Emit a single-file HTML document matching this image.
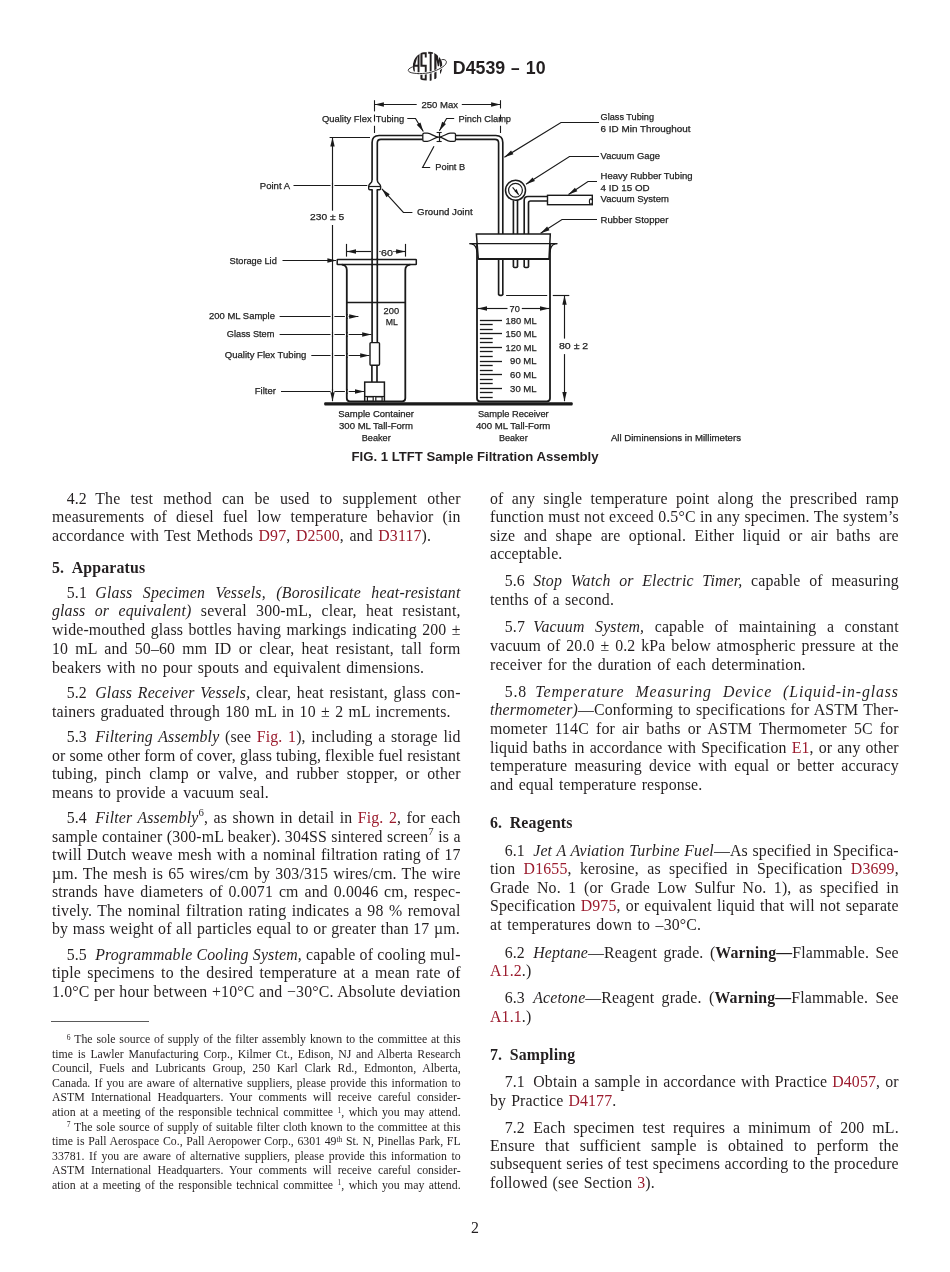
<!DOCTYPE html>
<html><head><meta charset="utf-8"><title>D4539 - 10</title>
<style>
html,body{margin:0;padding:0;background:#fff;}
body{width:950px;height:1272px;position:relative;overflow:hidden;}
#page{position:absolute;left:0;top:0;width:950px;height:1272px;background:#fff;will-change:transform;}
.t,.f{position:absolute;white-space:nowrap;font-family:"Liberation Serif",serif;color:#231f20;}
.t{font-size:15.85px;line-height:19px;word-spacing:2px;letter-spacing:0.15px;}
.f{font-size:11.8px;line-height:14px;}
.j{text-align:justify;text-align-last:justify;word-spacing:0;}
.r{color:#9b1b2d;}
.pn{padding-right:8.3px;}
sup{font-size:68%;line-height:0;vertical-align:0;position:relative;top:-0.62em;}
.f sup{font-size:64%;top:-0.45em;}
b{font-weight:bold;}
.hdr{position:absolute;font-family:"Liberation Sans",sans-serif;font-weight:bold;color:#231f20;white-space:nowrap;}
</style></head>
<body>
<div id="page">
<svg style="position:absolute;left:400px;top:45px" width="52" height="42" viewBox="400 45 52 42">
<defs><clipPath id="lc"><circle cx="427.6" cy="66.3" r="14.8"></circle></clipPath></defs>
<path d="M413.9,66.3 C411.2,67.4 408.3,68.6 408.2,70.3 M446.0,60.8 C445.1,59.5 443.4,59.3 441.5,59.7" fill="none" stroke="#231f20" stroke-width="0.9"></path>
<circle cx="427.6" cy="66.3" r="14.8" fill="#fff"></circle>
<g clip-path="url(#lc)" fill="#231f20">
<path fill-rule="evenodd" d="M413.0,71.5 L412.6,66 L413.8,59.5 L416.2,54 L418.4,52.2 L419.5,52.2 L419.5,74.6 L417.6,74.6 L417.6,66.8 L414.6,66.8 L414.9,71.5 Z M415.2,64.8 L417.6,64.8 L417.6,56.0 Z"></path>
<path d="M420.4,52.2 L426.7,52.2 L426.7,57.6 L424.8,57.6 L424.8,54.2 L422.5,54.2 L422.5,64.7 L426.7,64.7 L426.7,80.6 L420.4,80.6 L420.4,73.2 L422.5,73.2 L422.5,78.6 L424.8,78.6 L424.8,66.7 L420.4,66.7 Z"></path>
<path d="M428.2,51.4 L433.1,51.4 L433.1,53.8 L431.6,53.8 L431.6,81.2 L429.7,81.2 L429.7,53.8 L428.2,53.8 Z"></path>
<path d="M434.3,52 L437.2,52 L438.7,60.5 L439.9,52 L442.6,52 L442.6,76 L440.0,76 L440.0,61 L439.1,66.2 L437.8,66.2 L436.5,59.5 L436.5,79.2 L434.3,79.2 Z"></path>
</g>
<path d="M408.2,70.3 C408.5,73.6 418,73.9 425.3,73.3 C433,72.6 440.8,68.6 444.4,65.6 C446.5,63.7 446.8,61.7 446.0,60.8" fill="none" stroke="#fff" stroke-width="2.4"></path>
<path d="M408.2,70.3 C408.5,73.6 418,73.9 425.3,73.3 C433,72.6 440.8,68.6 444.4,65.6 C446.5,63.7 446.8,61.7 446.0,60.8" fill="none" stroke="#231f20" stroke-width="0.9"></path>
</svg>
<div class="hdr" style="left:452.8px;top:57.73px;font-size:17.8px;line-height:20px;">D4539</div>
<div class="hdr" style="left:510.9px;top:57.84px;font-size:17.5px;line-height:20px;transform:scaleX(0.88);transform-origin:0 0;">–</div>
<div class="hdr" style="left:525.8px;top:57.73px;font-size:17.8px;line-height:20px;">10</div>
<svg style="position:absolute;left:0;top:0" width="950" height="470" viewBox="0 0 950 470"><g stroke="#1a1a1a" fill="none" stroke-linecap="butt"><path d="M372.1,342.6 L372.1,142.5 Q372.1,135.5 379.1,135.5 L422.8,135.5" stroke-width="1.65" fill="none"></path>
<path d="M377.3,342.6 L377.3,143 Q377.3,139.4 380.90000000000003,139.4 L422.8,139.4" stroke-width="1.65" fill="none"></path>
<path d="M455.5,135.5 L495.8,135.5 Q502.8,135.5 502.8,142.5 L502.8,234" stroke-width="1.65" fill="none"></path>
<path d="M455.5,139.4 L495.0,139.4 Q498.6,139.4 498.6,143.0 L498.6,234" stroke-width="1.65" fill="none"></path>
<path d="M372.1,180.4 C372.1,183.5 368.7,183.3 368.7,186.3 L368.7,188.6 Q368.7,189.8 369.9,189.8 L372.1,189.8 L377.3,189.8 L379.4,189.8 Q380.6,189.8 380.6,188.6 L380.6,186.3 C380.6,183.3 377.3,183.5 377.3,180.4 Z" fill="#fff" stroke="none"></path>
<path d="M372.1,180.4 C372.1,183.5 368.7,183.3 368.7,186.3 L368.7,188.6 Q368.7,189.8 369.9,189.8 L372.70000000000005,189.8" stroke-width="1.4" fill="none"></path>
<path d="M377.3,180.4 C377.3,183.5 380.6,183.3 380.6,186.3 L380.6,188.6 Q380.6,189.8 379.4,189.8 L376.7,189.8" stroke-width="1.4" fill="none"></path>
<line x1="368.7" y1="186.5" x2="380.6" y2="186.5" stroke-width="1.2"></line>
<path d="M422.8,134.6 Q422.8,133.2 424.2,133.2 L427.4,133.2 C431.2,133.2 434.6,137.1 438.9,137.1 C443.2,137.1 446.6,133.2 450.2,133.2 L454.1,133.2 Q455.5,133.2 455.5,134.6 L455.5,139.9 Q455.5,141.3 454.1,141.3 L450.2,141.3 C446.6,141.3 443.2,137.1 438.9,137.1 C434.6,137.1 431.2,141.3 427.4,141.3 L424.2,141.3 Q422.8,141.3 422.8,139.9 Z" stroke-width="1.3" fill="#fff"></path>
<line x1="439.5" y1="132.1" x2="439.5" y2="141.4" stroke-width="1.2"></line>
<line x1="436.6" y1="132.5" x2="441.7" y2="132.5" stroke-width="1.1"></line>
<line x1="436.6" y1="141.5" x2="441.7" y2="141.5" stroke-width="1.1"></line>
<line x1="374.5" y1="100.2" x2="374.5" y2="111.4" stroke-width="1.1"></line>
<line x1="500.5" y1="100.2" x2="500.5" y2="108.5" stroke-width="1.1"></line>
<line x1="374.5" y1="114.6" x2="374.5" y2="121.6" stroke-width="1.1"></line>
<line x1="374.5" y1="125.8" x2="374.5" y2="133.0" stroke-width="1.1"></line>
<line x1="500.5" y1="114.6" x2="500.5" y2="121.6" stroke-width="1.1"></line>
<line x1="500.5" y1="125.8" x2="500.5" y2="133.0" stroke-width="1.1"></line>
<line x1="374.7" y1="104.5" x2="416.7" y2="104.5" stroke-width="1.15"></line>
<path d="M374.70,104.50 L383.90,102.30 L383.90,106.70 Z" fill="#1a1a1a" stroke="none"></path>
<line x1="461.8" y1="104.5" x2="500.3" y2="104.5" stroke-width="1.15"></line>
<path d="M500.30,104.50 L491.10,106.70 L491.10,102.30 Z" fill="#1a1a1a" stroke="none"></path>
<path d="M407.3,118.5 L415.5,118.5 L423.3,131.5" stroke-width="1.15" fill="none"></path>
<path d="M423.30,131.50 L416.68,124.74 L420.45,122.48 Z" fill="#1a1a1a" stroke="none"></path>
<path d="M454.2,118.5 L446.6,118.5 L439.4,130.8" stroke-width="1.15" fill="none"></path>
<path d="M439.40,130.80 L442.15,121.75 L445.95,123.97 Z" fill="#1a1a1a" stroke="none"></path>
<path d="M430.2,167.5 L422.6,167.5 L434.0,146.2" stroke-width="1.15" fill="none"></path>
<path d="M599.0,122.5 L561.0,122.5 L504.4,157.2" stroke-width="1.15" fill="none"></path>
<path d="M504.40,157.20 L511.09,150.52 L513.39,154.27 Z" fill="#1a1a1a" stroke="none"></path>
<path d="M599.0,156.5 L569.5,156.5 L526.0,184.2" stroke-width="1.15" fill="none"></path>
<path d="M526.00,184.20 L532.58,177.40 L534.94,181.11 Z" fill="#1a1a1a" stroke="none"></path>
<path d="M597.0,181.5 L588.0,181.5 L568.5,194.6" stroke-width="1.15" fill="none"></path>
<path d="M568.50,194.60 L574.91,187.64 L577.36,191.30 Z" fill="#1a1a1a" stroke="none"></path>
<path d="M597.0,219.5 L562.0,219.5 L540.6,233.3" stroke-width="1.15" fill="none"></path>
<path d="M540.60,233.30 L547.14,226.47 L549.52,230.16 Z" fill="#1a1a1a" stroke="none"></path>
<line x1="293.5" y1="185.5" x2="367.3" y2="185.5" stroke-width="1.15"></line>
<path d="M412.4,212.5 L403.4,212.5 L381.9,188.9" stroke-width="1.15" fill="none"></path>
<path d="M381.90,188.90 L389.72,194.22 L386.47,197.18 Z" fill="#1a1a1a" stroke="none"></path>
<line x1="329.6" y1="137.5" x2="370.0" y2="137.5" stroke-width="1.15"></line>
<line x1="332.5" y1="137.3" x2="332.5" y2="210.7" stroke-width="1.15"></line>
<line x1="332.5" y1="225.0" x2="332.5" y2="401.2" stroke-width="1.15"></line>
<path d="M332.50,137.30 L334.70,146.50 L330.30,146.50 Z" fill="#1a1a1a" stroke="none"></path>
<path d="M332.50,401.20 L330.30,392.00 L334.70,392.00 Z" fill="#1a1a1a" stroke="none"></path>
<line x1="282.5" y1="260.5" x2="336.0" y2="260.5" stroke-width="1.15"></line>
<path d="M336.60,260.50 L327.40,262.70 L327.40,258.30 Z" fill="#1a1a1a" stroke="none"></path>
<line x1="346.5" y1="243.9" x2="346.5" y2="256.6" stroke-width="1.15"></line>
<line x1="405.5" y1="243.9" x2="405.5" y2="256.6" stroke-width="1.15"></line>
<line x1="346.8" y1="251.5" x2="371.0" y2="251.5" stroke-width="1.15"></line>
<path d="M346.80,251.50 L356.00,249.30 L356.00,253.70 Z" fill="#1a1a1a" stroke="none"></path>
<line x1="395.3" y1="251.5" x2="405.3" y2="251.5" stroke-width="1.15"></line>
<path d="M405.30,251.50 L396.10,253.70 L396.10,249.30 Z" fill="#1a1a1a" stroke="none"></path>
<line x1="379.3" y1="251.5" x2="380.6" y2="251.5" stroke-width="1.15"></line>
<line x1="393.3" y1="251.5" x2="394.6" y2="251.5" stroke-width="1.15"></line>
<rect x="337.2" y="259.4" width="79.1" height="5.1" rx="0.6" fill="#fff" stroke-width="1.5"></rect>
<line x1="372.1" y1="258.6" x2="372.1" y2="265.3" stroke-width="1.65"></line>
<line x1="377.3" y1="258.6" x2="377.3" y2="265.3" stroke-width="1.65"></line>
<path d="M341.8,264.6 C345.6,265.0 346.8,266.6 346.8,270.0 L346.8,398.3 Q346.8,401.3 349.8,401.3 L402.3,401.3 Q405.3,401.3 405.3,398.3 L405.3,270.0 C405.3,266.6 406.5,265.0 410.3,264.6" stroke-width="1.8" fill="none"></path>
<line x1="346.8" y1="302.5" x2="405.3" y2="302.5" stroke-width="1.3"></line>
<rect x="370.0" y="342.6" width="9.5" height="22.7" rx="1.0" fill="#fff" stroke-width="1.4"></rect>
<line x1="371.9" y1="365.3" x2="371.9" y2="382.1" stroke-width="1.65"></line>
<line x1="377.0" y1="365.3" x2="377.0" y2="382.1" stroke-width="1.65"></line>
<rect x="364.7" y="382.1" width="19.7" height="19.2" fill="#fff" stroke-width="1.5"></rect>
<line x1="364.7" y1="396.5" x2="384.4" y2="396.5" stroke-width="1.2"></line>
<rect x="367.4" y="396.8" width="5.8" height="4.5" fill="none" stroke-width="1.2"></rect>
<rect x="375.8" y="396.8" width="6.3" height="4.5" fill="none" stroke-width="1.2"></rect>
<path d="M279.6,316.5 L358.4,316.5" stroke-width="1.15" fill="none"></path>
<path d="M358.40,316.50 L349.20,318.70 L349.20,314.30 Z" fill="#1a1a1a" stroke="none"></path>
<path d="M279.6,334.5 L371.4,334.5" stroke-width="1.15" fill="none"></path>
<path d="M371.40,334.50 L362.20,336.70 L362.20,332.30 Z" fill="#1a1a1a" stroke="none"></path>
<path d="M311.3,355.5 L369.4,355.5" stroke-width="1.15" fill="none"></path>
<path d="M369.40,355.50 L360.20,357.70 L360.20,353.30 Z" fill="#1a1a1a" stroke="none"></path>
<path d="M281.0,391.5 L364.2,391.5" stroke-width="1.15" fill="none"></path>
<path d="M364.20,391.50 L355.00,393.70 L355.00,389.30 Z" fill="#1a1a1a" stroke="none"></path>
<rect x="324.2" y="402.2" width="248.5" height="3.3" rx="1" fill="#1a1a1a" stroke="none"></rect>
<line x1="469.5" y1="243.6" x2="557.3" y2="243.6" stroke-width="1.4"></line>
<path d="M471.5,243.8 Q476.6,244.6 477.0,252.5" stroke-width="1.2" fill="none"></path>
<path d="M555.3,243.8 Q550.4,244.6 550.0,252.5" stroke-width="1.2" fill="none"></path>
<path d="M477.0,244 L477.0,398.3 Q477.0,401.3 480.0,401.3 L547.0,401.3 Q550.0,401.3 550.0,398.3 L550.0,244" stroke-width="1.8" fill="none"></path>
<path d="M476.4,234.0 L550.3,234.0 L549.0,259.0 L478.3,259.0 Z" stroke-width="1.5" fill="#fff"></path>
<line x1="469.5" y1="243.6" x2="557.3" y2="243.6" stroke-width="1.4"></line>
<line x1="478.3" y1="259.0" x2="549.0" y2="259.0" stroke-width="2.0"></line>
<line x1="498.6" y1="259.5" x2="498.6" y2="294.5" stroke-width="1.65"></line>
<line x1="502.8" y1="259.5" x2="502.8" y2="294.5" stroke-width="1.65"></line>
<path d="M498.6,294.0 Q498.6,295.3 499.8,295.3 L501.6,295.3 Q502.8,295.3 502.8,294.0" stroke-width="1.65" fill="none"></path>
<line x1="513.4" y1="259.5" x2="513.4" y2="266.7" stroke-width="1.65"></line>
<line x1="517.5" y1="259.5" x2="517.5" y2="266.7" stroke-width="1.65"></line>
<path d="M513.4,266.2 Q513.4,267.5 514.6,267.5 L516.3,267.5 Q517.5,267.5 517.5,266.2" stroke-width="1.65" fill="none"></path>
<line x1="524.2" y1="259.5" x2="524.2" y2="266.7" stroke-width="1.65"></line>
<line x1="528.5" y1="259.5" x2="528.5" y2="266.7" stroke-width="1.65"></line>
<path d="M524.2,266.2 Q524.2,267.5 525.4000000000001,267.5 L527.3,267.5 Q528.5,267.5 528.5,266.2" stroke-width="1.65" fill="none"></path>
<line x1="513.4" y1="200.3" x2="513.4" y2="234.0" stroke-width="1.65"></line>
<line x1="517.5" y1="200.3" x2="517.5" y2="234.0" stroke-width="1.65"></line>
<path d="M524.2,234 L524.2,200.2 Q524.2,196.5 527.9,196.5 L547.5,196.5" stroke-width="1.65" fill="none"></path>
<path d="M528.5,234 L528.5,203.0 Q528.5,201.0 530.5,201.0 L547.5,201.0" stroke-width="1.65" fill="none"></path>
<rect x="547.5" y="195.3" width="44.8" height="9.4" fill="#fff" stroke-width="1.4"></rect>
<ellipse cx="590.9" cy="201.6" rx="1.5" ry="2.7" fill="#fff" stroke-width="1.1"></ellipse>
<circle cx="515.5" cy="190.3" r="10.0" fill="#fff" stroke-width="1.5"></circle>
<circle cx="515.5" cy="190.3" r="6.9" fill="none" stroke-width="1.2"></circle>
<line x1="512.6" y1="187.4" x2="518.6" y2="194.6" stroke-width="1.15"></line>
<path d="M518.9,195.0 L514.3,190.9 L516.6,189.0 Z" fill="#1a1a1a" stroke="none"></path>
<line x1="506.1" y1="295.5" x2="547.2" y2="295.5" stroke-width="1.15"></line>
<line x1="552.8" y1="295.5" x2="569.3" y2="295.5" stroke-width="1.15"></line>
<line x1="564.5" y1="295.6" x2="564.5" y2="338.6" stroke-width="1.15"></line>
<line x1="564.5" y1="354.1" x2="564.5" y2="401.2" stroke-width="1.15"></line>
<path d="M564.50,295.60 L566.70,304.80 L562.30,304.80 Z" fill="#1a1a1a" stroke="none"></path>
<path d="M564.50,401.20 L562.30,392.00 L566.70,392.00 Z" fill="#1a1a1a" stroke="none"></path>
<line x1="477.0" y1="308.5" x2="507.5" y2="308.5" stroke-width="1.15"></line>
<line x1="521.8" y1="308.5" x2="550.0" y2="308.5" stroke-width="1.15"></line>
<path d="M477.80,308.50 L487.00,306.30 L487.00,310.70 Z" fill="#1a1a1a" stroke="none"></path>
<path d="M549.20,308.50 L540.00,310.70 L540.00,306.30 Z" fill="#1a1a1a" stroke="none"></path>
<line x1="479.9" y1="320.5" x2="502.0" y2="320.5" stroke-width="1.3"></line>
<line x1="479.9" y1="324.5" x2="492.7" y2="324.5" stroke-width="1.3"></line>
<line x1="479.9" y1="329.5" x2="492.7" y2="329.5" stroke-width="1.3"></line>
<line x1="479.9" y1="333.5" x2="502.0" y2="333.5" stroke-width="1.3"></line>
<line x1="479.9" y1="338.5" x2="492.7" y2="338.5" stroke-width="1.3"></line>
<line x1="479.9" y1="342.5" x2="492.7" y2="342.5" stroke-width="1.3"></line>
<line x1="479.9" y1="347.5" x2="502.0" y2="347.5" stroke-width="1.3"></line>
<line x1="479.9" y1="351.5" x2="492.7" y2="351.5" stroke-width="1.3"></line>
<line x1="479.9" y1="356.5" x2="492.7" y2="356.5" stroke-width="1.3"></line>
<line x1="479.9" y1="361.5" x2="502.0" y2="361.5" stroke-width="1.3"></line>
<line x1="479.9" y1="365.5" x2="492.7" y2="365.5" stroke-width="1.3"></line>
<line x1="479.9" y1="370.5" x2="492.7" y2="370.5" stroke-width="1.3"></line>
<line x1="479.9" y1="374.5" x2="502.0" y2="374.5" stroke-width="1.3"></line>
<line x1="479.9" y1="379.5" x2="492.7" y2="379.5" stroke-width="1.3"></line>
<line x1="479.9" y1="383.5" x2="492.7" y2="383.5" stroke-width="1.3"></line>
<line x1="479.9" y1="388.5" x2="502.0" y2="388.5" stroke-width="1.3"></line>
<line x1="479.9" y1="392.5" x2="492.7" y2="392.5" stroke-width="1.3"></line>
<line x1="479.9" y1="397.5" x2="492.7" y2="397.5" stroke-width="1.3"></line>
<rect x="330.60" y="315.60" width="3.8" height="1.8" fill="#fff" stroke="none"></rect>
<line x1="332.5" y1="314.00" x2="332.5" y2="319.00" stroke-width="1.15"></line>
<rect x="344.90" y="315.60" width="3.8" height="1.8" fill="#fff" stroke="none"></rect>
<line x1="346.8" y1="314.00" x2="346.8" y2="319.00" stroke-width="1.6"></line>
<rect x="330.60" y="333.60" width="3.8" height="1.8" fill="#fff" stroke="none"></rect>
<line x1="332.5" y1="332.00" x2="332.5" y2="337.00" stroke-width="1.15"></line>
<rect x="344.90" y="333.60" width="3.8" height="1.8" fill="#fff" stroke="none"></rect>
<line x1="346.8" y1="332.00" x2="346.8" y2="337.00" stroke-width="1.6"></line>
<rect x="330.60" y="354.60" width="3.8" height="1.8" fill="#fff" stroke="none"></rect>
<line x1="332.5" y1="353.00" x2="332.5" y2="358.00" stroke-width="1.15"></line>
<rect x="344.90" y="354.60" width="3.8" height="1.8" fill="#fff" stroke="none"></rect>
<line x1="346.8" y1="353.00" x2="346.8" y2="358.00" stroke-width="1.6"></line>
<rect x="330.60" y="390.60" width="3.8" height="1.8" fill="#fff" stroke="none"></rect>
<line x1="332.5" y1="389.00" x2="332.5" y2="394.00" stroke-width="1.15"></line>
<rect x="344.90" y="390.60" width="3.8" height="1.8" fill="#fff" stroke="none"></rect>
<line x1="346.8" y1="389.00" x2="346.8" y2="394.00" stroke-width="1.6"></line>
<rect x="330.60" y="184.60" width="3.8" height="1.8" fill="#fff" stroke="none"></rect>
<line x1="332.5" y1="183.00" x2="332.5" y2="188.00" stroke-width="1.15"></line></g><g font-family="Liberation Sans" fill="#222222" stroke="#222222" stroke-width="0.25"><text x="421.4" y="107.8" textLength="36.6" lengthAdjust="spacingAndGlyphs" font-size="9.7">250 Max</text>
<text x="322.0" y="121.6" textLength="49.6" lengthAdjust="spacingAndGlyphs" font-size="9.7">Quality Flex</text>
<text x="375.8" y="121.6" textLength="28.3" lengthAdjust="spacingAndGlyphs" font-size="9.7">Tubing</text>
<text x="458.6" y="121.8" textLength="52.4" lengthAdjust="spacingAndGlyphs" font-size="9.7">Pinch Clamp</text>
<text x="435.3" y="169.6" textLength="29.9" lengthAdjust="spacingAndGlyphs" font-size="9.7">Point B</text>
<text x="600.6" y="120.0" textLength="53.4" lengthAdjust="spacingAndGlyphs" font-size="9.7">Glass Tubing</text>
<text x="600.6" y="131.6" textLength="89.9" lengthAdjust="spacingAndGlyphs" font-size="9.7">6 ID Min Throughout</text>
<text x="600.6" y="159.0" textLength="59.5" lengthAdjust="spacingAndGlyphs" font-size="9.7">Vacuum Gage</text>
<text x="600.6" y="179.0" textLength="92.0" lengthAdjust="spacingAndGlyphs" font-size="9.7">Heavy Rubber Tubing</text>
<text x="600.6" y="190.5" textLength="49.0" lengthAdjust="spacingAndGlyphs" font-size="9.7">4 ID 15 OD</text>
<text x="600.6" y="202.0" textLength="68.2" lengthAdjust="spacingAndGlyphs" font-size="9.7">Vacuum System</text>
<text x="600.6" y="222.7" textLength="67.8" lengthAdjust="spacingAndGlyphs" font-size="9.7">Rubber Stopper</text>
<text x="259.8" y="189.0" textLength="30.3" lengthAdjust="spacingAndGlyphs" font-size="9.7">Point A</text>
<text x="417.1" y="215.4" textLength="55.5" lengthAdjust="spacingAndGlyphs" font-size="9.7">Ground Joint</text>
<text x="310.0" y="220.3" textLength="34.1" lengthAdjust="spacingAndGlyphs" font-size="9.7">230 ± 5</text>
<text x="229.5" y="263.9" textLength="47.3" lengthAdjust="spacingAndGlyphs" font-size="9.7">Storage Lid</text>
<text x="381.0" y="256.2" textLength="11.8" lengthAdjust="spacingAndGlyphs" font-size="9.7">60</text>
<text x="383.6" y="313.8" textLength="15.5" lengthAdjust="spacingAndGlyphs" font-size="9.7">200</text>
<text x="385.8" y="325.4" textLength="12.1" lengthAdjust="spacingAndGlyphs" font-size="9.7">ML</text>
<text x="209.1" y="319.0" textLength="65.8" lengthAdjust="spacingAndGlyphs" font-size="9.7">200 ML Sample</text>
<text x="226.8" y="336.6" textLength="47.6" lengthAdjust="spacingAndGlyphs" font-size="9.7">Glass Stem</text>
<text x="224.8" y="358.0" textLength="81.6" lengthAdjust="spacingAndGlyphs" font-size="9.7">Quality Flex Tubing</text>
<text x="254.8" y="394.4" textLength="21.1" lengthAdjust="spacingAndGlyphs" font-size="9.7">Filter</text>
<text x="559.0" y="349.1" textLength="29.2" lengthAdjust="spacingAndGlyphs" font-size="9.7">80 ± 2</text>
<text x="509.6" y="312.2" textLength="10.2" lengthAdjust="spacingAndGlyphs" font-size="9.7">70</text>
<text x="536.6" y="323.6" text-anchor="end" textLength="31.0" lengthAdjust="spacingAndGlyphs" font-size="9.7">180 ML</text>
<text x="536.6" y="337.2" text-anchor="end" textLength="31.0" lengthAdjust="spacingAndGlyphs" font-size="9.7">150 ML</text>
<text x="536.6" y="350.8" text-anchor="end" textLength="31.0" lengthAdjust="spacingAndGlyphs" font-size="9.7">120 ML</text>
<text x="536.6" y="364.4" text-anchor="end" textLength="26.5" lengthAdjust="spacingAndGlyphs" font-size="9.7">90 ML</text>
<text x="536.6" y="378.0" text-anchor="end" textLength="26.5" lengthAdjust="spacingAndGlyphs" font-size="9.7">60 ML</text>
<text x="536.6" y="391.59" text-anchor="end" textLength="26.5" lengthAdjust="spacingAndGlyphs" font-size="9.7">30 ML</text>
<text x="376.1" y="417.3" text-anchor="middle" textLength="75.8" lengthAdjust="spacingAndGlyphs" font-size="9.7">Sample Container</text>
<text x="376.0" y="429.2" text-anchor="middle" textLength="74.0" lengthAdjust="spacingAndGlyphs" font-size="9.7">300 ML Tall-Form</text>
<text x="376.2" y="440.6" text-anchor="middle" textLength="29.0" lengthAdjust="spacingAndGlyphs" font-size="9.7">Beaker</text>
<text x="513.3" y="417.3" text-anchor="middle" textLength="70.8" lengthAdjust="spacingAndGlyphs" font-size="9.7">Sample Receiver</text>
<text x="513.2" y="429.2" text-anchor="middle" textLength="74.4" lengthAdjust="spacingAndGlyphs" font-size="9.7">400 ML Tall-Form</text>
<text x="513.3" y="440.6" text-anchor="middle" textLength="28.8" lengthAdjust="spacingAndGlyphs" font-size="9.7">Beaker</text>
<text x="610.9" y="441.3" textLength="130.1" lengthAdjust="spacingAndGlyphs" font-size="9.7">All Diminensions in Millimeters</text></g></svg>
<div class="hdr" style="left:351.5px;top:448.84px;font-size:13.16px;line-height:16px;">FIG. 1 LTFT Sample Filtration Assembly</div>
<div class="t j" style="left:66.70px;top:488.65px;width:393.90px"><span class="pn">4.2</span>The test method can be used to supplement other</div>
<div class="t j" style="left:52.00px;top:507.40px;width:408.60px">measurements of diesel fuel low temperature behavior (in</div>
<div class="t j" style="left:52.00px;top:526.15px;width:379.10px">accordance with Test Methods <span class="r">D97</span>, <span class="r">D2500</span>, and <span class="r">D3117</span>).</div>
<div class="t" style="left:52.00px;top:557.55px;width:408.60px"><b>5.<span style="display:inline-block;width:7.6px"></span>Apparatus</b></div>
<div class="t j" style="left: 66.7px; top: 582.65px; width: 393.9px; letter-spacing: 0.189px;"><span class="pn">5.1</span><i>Glass Specimen Vessels, (Borosilicate heat-resistant</i></div>
<div class="t j" style="left:52.00px;top:601.40px;width:408.60px"><i>glass or equivalent)</i> several 300-mL, clear, heat resistant,</div>
<div class="t j" style="left:52.00px;top:620.15px;width:408.60px">wide-mouthed glass bottles having markings indicating 200 ±</div>
<div class="t j" style="left:52.00px;top:638.90px;width:408.60px">10 mL and 50–60 mm ID or clear, heat resistant, tall form</div>
<div class="t j" style="left:52.00px;top:657.65px;width:372.10px">beakers with no pour spouts and equivalent dimensions.</div>
<div class="t j" style="left:66.70px;top:683.05px;width:393.90px"><span class="pn">5.2</span><i>Glass Receiver Vessels,</i> clear, heat resistant, glass con-</div>
<div class="t j" style="left:52.00px;top:701.80px;width:398.60px">tainers graduated through 180 mL in 10 ± 2 mL increments.</div>
<div class="t j" style="left:66.70px;top:726.95px;width:393.90px"><span class="pn">5.3</span><i>Filtering Assembly</i> (see <span class="r">Fig. 1</span>), including a storage lid</div>
<div class="t j" style="left: 52px; top: 745.7px; width: 408.6px; letter-spacing: 0.073px;">or some other form of cover, glass tubing, flexible fuel resistant</div>
<div class="t j" style="left:52.00px;top:764.45px;width:408.60px">tubing, pinch clamp or valve, and rubber stopper, or other</div>
<div class="t j" style="left:52.00px;top:783.20px;width:216.90px">means to provide a vacuum seal.</div>
<div class="t j" style="left:66.70px;top:807.95px;width:393.90px"><span class="pn">5.4</span><i>Filter Assembly</i><sup>6</sup>, as shown in detail in <span class="r">Fig. 2</span>, for each</div>
<div class="t j" style="left:52.00px;top:826.52px;width:408.60px">sample container (300-mL beaker). 304SS sintered screen<sup>7</sup> is a</div>
<div class="t j" style="left:52.00px;top:845.09px;width:408.60px">twill Dutch weave mesh with a nominal filtration rating of 17</div>
<div class="t j" style="left:52.00px;top:863.66px;width:408.60px">µm. The mesh is 65 wires/cm by 303/315 wires/cm. The wire</div>
<div class="t j" style="left:52.00px;top:882.23px;width:408.60px">strands have diameters of 0.0071 cm and 0.0046 cm, respec-</div>
<div class="t j" style="left:52.00px;top:900.80px;width:408.60px">tively. The nominal filtration rating indicates a 98 % removal</div>
<div class="t j" style="left:52.00px;top:919.37px;width:407.80px">by mass weight of all particles equal to or greater than 17 µm.</div>
<div class="t j" style="left: 66.7px; top: 944.95px; width: 393.9px; letter-spacing: 0.148px;"><span class="pn">5.5</span><i>Programmable Cooling System,</i> capable of cooling mul-</div>
<div class="t j" style="left:52.00px;top:963.35px;width:408.60px">tiple specimens to the desired temperature at a mean rate of</div>
<div class="t j" style="left:52.00px;top:981.75px;width:408.60px">1.0°C per hour between +10°C and −30°C. Absolute deviation</div>
<div class="t j" style="left:490.00px;top:488.85px;width:408.80px">of any single temperature point along the prescribed ramp</div>
<div class="t j" style="left:490.00px;top:507.35px;width:408.80px">function must not exceed 0.5°C in any specimen. The system’s</div>
<div class="t j" style="left:490.00px;top:525.85px;width:408.80px">size and shape are optional. Either liquid or air baths are</div>
<div class="t" style="left:490.00px;top:544.35px;width:408.80px">acceptable.</div>
<div class="t j" style="left:504.70px;top:571.15px;width:394.10px"><span class="pn">5.6</span><i>Stop Watch or Electric Timer,</i> capable of measuring</div>
<div class="t j" style="left:490.00px;top:589.90px;width:124.00px">tenths of a second.</div>
<div class="t j" style="left: 504.7px; top: 616.75px; width: 394.1px; letter-spacing: 0.18px;"><span class="pn">5.7</span><i>Vacuum System,</i> capable of maintaining a constant</div>
<div class="t j" style="left:490.00px;top:635.70px;width:408.80px">vacuum of 20.0 ± 0.2 kPa below atmospheric pressure at the</div>
<div class="t j" style="left:490.00px;top:654.65px;width:315.60px">receiver for the duration of each determination.</div>
<div class="t j" style="left: 504.7px; top: 681.95px; width: 394.1px; letter-spacing: 0.847px;"><span class="pn">5.8</span><i>Temperature Measuring Device (Liquid-in-glass</i></div>
<div class="t j" style="left:490.00px;top:700.49px;width:408.80px"><i>thermometer)</i>—Conforming to specifications for ASTM Ther-</div>
<div class="t j" style="left:490.00px;top:719.03px;width:408.80px">mometer 114C for air baths or ASTM Thermometer 5C for</div>
<div class="t j" style="left:490.00px;top:737.57px;width:408.80px">liquid baths in accordance with Specification <span class="r">E1</span>, or any other</div>
<div class="t j" style="left:490.00px;top:756.11px;width:408.80px">temperature measuring device with equal or better accuracy</div>
<div class="t j" style="left:490.00px;top:774.65px;width:212.40px">and equal temperature response.</div>
<div class="t" style="left:490.00px;top:813.05px;width:408.80px"><b>6.<span style="display:inline-block;width:7.6px"></span>Reagents</b></div>
<div class="t j" style="left:504.70px;top:840.65px;width:394.10px"><span class="pn">6.1</span><i>Jet A Aviation Turbine Fuel</i>—As specified in Specifica-</div>
<div class="t j" style="left:490.00px;top:859.13px;width:408.80px">tion <span class="r">D1655</span>, kerosine, as specified in Specification <span class="r">D3699</span>,</div>
<div class="t j" style="left:490.00px;top:877.61px;width:408.80px">Grade No. 1 (or Grade Low Sulfur No. 1), as specified in</div>
<div class="t j" style="left:490.00px;top:896.09px;width:408.80px">Specification <span class="r">D975</span>, or equivalent liquid that will not separate</div>
<div class="t j" style="left:490.00px;top:914.57px;width:211.10px">at temperatures down to –30°C.</div>
<div class="t j" style="left:504.70px;top:942.55px;width:394.10px"><span class="pn">6.2</span><i>Heptane</i>—Reagent grade. (<b>Warning—</b>Flammable. See</div>
<div class="t" style="left:490.00px;top:960.85px;width:408.80px"><span class="r">A1.2</span>.)</div>
<div class="t j" style="left:504.70px;top:987.95px;width:394.10px"><span class="pn">6.3</span><i>Acetone</i>—Reagent grade. (<b>Warning—</b>Flammable. See</div>
<div class="t" style="left:490.00px;top:1007.15px;width:408.80px"><span class="r">A1.1</span>.)</div>
<div class="t" style="left:490.00px;top:1045.05px;width:408.80px"><b>7.<span style="display:inline-block;width:7.6px"></span>Sampling</b></div>
<div class="t j" style="left:504.70px;top:1071.55px;width:394.10px"><span class="pn">7.1</span>Obtain a sample in accordance with Practice <span class="r">D4057</span>, or</div>
<div class="t j" style="left:490.00px;top:1090.55px;width:126.40px">by Practice <span class="r">D4177</span>.</div>
<div class="t j" style="left:504.70px;top:1117.75px;width:394.10px"><span class="pn">7.2</span>Each specimen test requires a minimum of 200 mL.</div>
<div class="t j" style="left:490.00px;top:1136.10px;width:408.80px">Ensure that sufficient sample is obtained to perform the</div>
<div class="t j" style="left:490.00px;top:1154.45px;width:408.80px">subsequent series of test specimens according to the procedure</div>
<div class="t j" style="left:490.00px;top:1172.80px;width:164.90px">followed (see Section <span class="r">3</span>).</div>
<div class="f j" style="left:66.70px;top:1032.12px;width:393.90px"><sup>6</sup> The sole source of supply of the filter assembly known to the committee at this</div>
<div class="f j" style="left:52.00px;top:1046.69px;width:408.60px">time is Lawler Manufacturing Corp., Kilmer Ct., Edison, NJ and Alberta Research</div>
<div class="f j" style="left:52.00px;top:1061.26px;width:408.60px">Council, Fuels and Lubricants Group, 250 Karl Clark Rd., Edmonton, Alberta,</div>
<div class="f j" style="left:52.00px;top:1075.83px;width:408.60px">Canada. If you are aware of alternative suppliers, please provide this information to</div>
<div class="f j" style="left:52.00px;top:1090.40px;width:408.60px">ASTM International Headquarters. Your comments will receive careful consider-</div>
<div class="f j" style="left:52.00px;top:1104.97px;width:408.60px">ation at a meeting of the responsible technical committee <sup>1</sup>, which you may attend.</div>
<div class="f j" style="left:66.70px;top:1119.54px;width:393.90px"><sup>7</sup> The sole source of supply of suitable filter cloth known to the committee at this</div>
<div class="f j" style="left:52.00px;top:1134.11px;width:408.60px">time is Pall Aerospace Co., Pall Aeropower Corp., 6301 49<sup>th</sup> St. N, Pinellas Park, FL</div>
<div class="f j" style="left:52.00px;top:1148.68px;width:408.60px">33781. If you are aware of alternative suppliers, please provide this information to</div>
<div class="f j" style="left:52.00px;top:1163.25px;width:408.60px">ASTM International Headquarters. Your comments will receive careful consider-</div>
<div class="f j" style="left:52.00px;top:1177.82px;width:408.60px">ation at a meeting of the responsible technical committee <sup>1</sup>, which you may attend.</div>
<div style="position:absolute;left:51px;top:1020.8px;width:97.6px;height:1.3px;background:#5a5a5a;"></div>
<div class="t" style="left:470px;top:1217.85px;width:10px;text-align:center;word-spacing:0">2</div>
</div>

</body></html>
